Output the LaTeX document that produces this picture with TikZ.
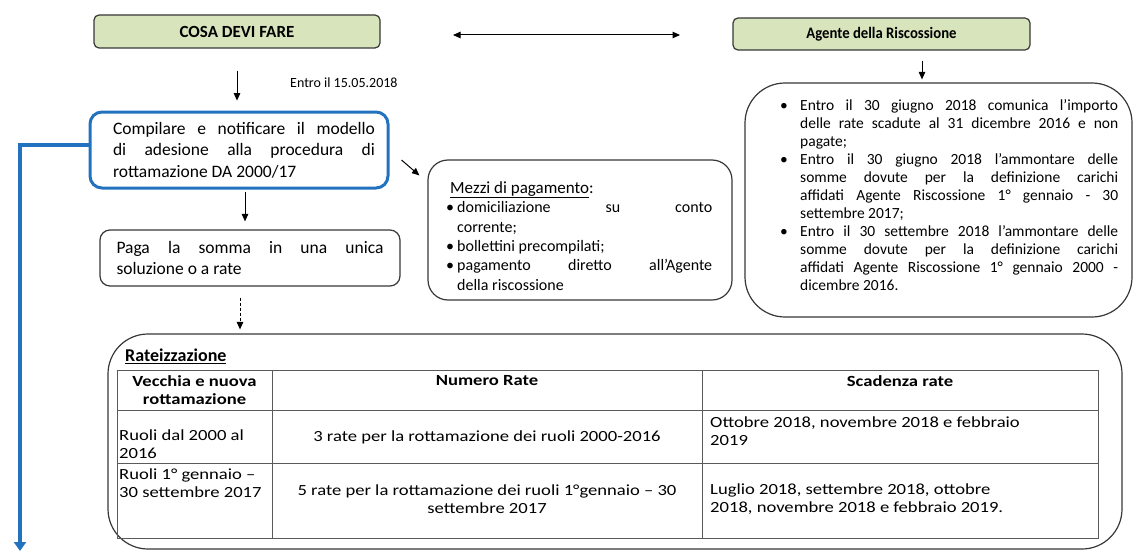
\documentclass[tikz,border=0pt]{standalone}
\usepackage{fontspec}
\setmainfont{Carlito}
\newfontfamily\tabfont{Carlito}[FakeStretch=1.2]
\newfontfamily\narfont{Carlito}[FakeStretch=0.92]
\usetikzlibrary{arrows.meta}
\definecolor{hdr}{RGB}{216,228,188}
\definecolor{edge}{RGB}{55,55,55}
\definecolor{blu}{RGB}{35,114,192}
\definecolor{tblc}{RGB}{90,90,90}
\newcommand{\jline}[2]{\makebox[#1][s]{\spaceskip=0pt\xspaceskip=0pt\relax #2}}
\newcommand{\bulitem}{\makebox[22pt][l]{\hspace{2pt}\textbullet}}
\newcommand{\myind}{\hspace*{22pt}}
\newcommand{\mbul}{\makebox[11pt][l]{\textbullet}}
\begin{document}
\begin{tikzpicture}[x=1pt,y=-1pt,
  hdrbox/.style={draw=edge, fill=hdr, line width=1.2pt, rounded corners=5pt, inner sep=0pt},
  rbox/.style={draw=edge, line width=1.2pt, inner sep=0pt},
  arr/.style={-{Triangle[length=7.5pt,width=6.5pt]}, line width=1pt},
  darr/.style={{Triangle[length=7.5pt,width=6.5pt]}-{Triangle[length=7.5pt,width=6.5pt]}, line width=1pt},
  tbl/.style={draw=tblc, line width=0.9pt},
  cell/.style={inner sep=0pt, font=\tabfont\fontsize{15.5}{18}\selectfont},
  hcell/.style={inner sep=0pt, font=\tabfont\bfseries\fontsize{15.5}{18}\selectfont},
]
\useasboundingbox (0,0) rectangle (1137,551);

% header boxes
\node[hdrbox, minimum width=286pt, minimum height=33pt, font=\bfseries\fontsize{17}{20}\selectfont] (cosa) at (237,31.5) {COSA DEVI FARE};
\node[hdrbox, minimum width=297pt, minimum height=32pt, font=\narfont\bfseries\fontsize{16}{18}\selectfont] (agente) at (881.5,34) {Agente della Riscossione};
\coordinate (dl) at (453,35);
\coordinate (dr) at (680,35);
\draw[darr] (dl) -- (dr);

% step 1
\node[draw=blu, line width=3pt, rounded corners=12pt, inner sep=0pt,
      minimum width=298pt, minimum height=76pt, align=left,
      font=\fontsize{17.5}{21.5}\selectfont] (comp) at (239,150)
  {\hspace*{10pt}\jline{262pt}{Compilare e notificare il modello}\\
   \hspace*{10pt}\jline{262pt}{di adesione alla procedura di}\\
   \hspace*{10pt}rottamazione DA 2000/17};
\draw[arr] ([yshift=-22pt]cosa.south) -- ++(0,30);
\node[anchor=west, inner sep=0pt, font=\fontsize{14}{16}\selectfont] (entro) at (290,83) {Entro il 15.05.2018};

% blue side line
\coordinate (bl) at (20,551);
\draw[blu, line width=4pt, -{Triangle[length=9pt,width=12pt]}] ([yshift=5pt]comp.west) -| (bl);

% mezzi di pagamento
\node[rbox, rounded corners=20pt, minimum width=304pt, minimum height=140pt] (mezzi) at (580,230) {};
\node[inner sep=0pt, align=left, anchor=west, font=\fontsize{16}{19.4}\selectfont] (mtext) at (446,236)
  {\hspace*{4pt}{\fontsize{17}{19.4}\selectfont\underline{Mezzi di pagamento}:}\\
   \mbul\jline{255pt}{domiciliazione su conto}\\
   \hspace*{11pt}corrente;\\
   \mbul bollettini precompilati;\\
   \mbul\jline{255pt}{pagamento diretto all'Agente}\\
   \hspace*{11pt}della riscossione};
\draw[arr] ([xshift=12pt,yshift=-10pt]comp.east) -- ([xshift=-8pt,yshift=-16pt]mezzi.north west);

% agente box
\node[rbox, rounded corners=40pt, minimum width=387pt, minimum height=234pt] (agbox) at (938.5,200) {};
\node[inner sep=0pt, align=left, anchor=west, font=\fontsize{15.5}{18}\selectfont] (agtext) at (778,195)
  {\bulitem\jline{318pt}{Entro il 30 giugno 2018 comunica l'importo}\\
   \myind\jline{318pt}{delle rate scadute al 31 dicembre 2016 e non}\\
   \myind pagate;\\
   \bulitem\jline{318pt}{Entro il 30 giugno 2018 l'ammontare delle}\\
   \myind\jline{318pt}{somme dovute per la definizione carichi}\\
   \myind\jline{318pt}{affidati Agente Riscossione 1° gennaio - 30}\\
   \myind settembre 2017;\\
   \bulitem\jline{318pt}{Entro il 30 settembre 2018 l'ammontare delle}\\
   \myind\jline{318pt}{somme dovute per la definizione carichi}\\
   \myind\jline{318pt}{affidati Agente Riscossione 1° gennaio 2000 -}\\
   \myind dicembre 2016.};
\draw[arr] ([xshift=40.5pt,yshift=-10pt]agente.south) -- ([xshift=-16.5pt,yshift=3pt]agbox.north);

% paga
\node[rbox, rounded corners=10pt, minimum width=300pt, minimum height=56pt,
      align=left, font=\fontsize{17.5}{20.5}\selectfont] (paga) at (250,258)
  {\jline{267pt}{Paga la somma in una unica}\\ soluzione o a rate};
\draw[arr] ([xshift=6pt,yshift=-2pt]comp.south) -- ([xshift=-5pt,yshift=8pt]paga.north);

% rateizzazione
\node[rbox, rounded corners=40pt, minimum width=1014pt, minimum height=215pt] (rate) at (615,441.5) {};
\draw[arr, dash pattern=on 3pt off 2pt] ([xshift=-10pt,yshift=-11pt]paga.south) -- ([xshift=-375pt,yshift=4pt]rate.north);
\node[anchor=west, inner sep=0pt, font=\bfseries\fontsize{18}{20}\selectfont] (rtitle) at (125,356) {\underline{Rateizzazione}};

% table
\draw[tbl] (117,370) rectangle (1098,538);
\draw[tbl] (272,370) -- (272,538);
\draw[tbl] (702,370) -- (702,538);
\draw[tbl] (117,410) -- (1098,410);
\draw[tbl] (117,463) -- (1098,463);

\node[hcell, align=center] (h1) at (194.5,390) {Vecchia e nuova\\rottamazione};
\node[hcell] (h2) at (487,381) {Numero Rate};
\node[hcell] (h3) at (900,381) {Scadenza rate};
\node[cell, align=left, anchor=west] (c11) at (119,444) {Ruoli dal 2000 al\\2016};
\node[cell] (c12) at (487,437) {3 rate per la rottamazione dei ruoli 2000-2016};
\node[cell, align=left, anchor=west] (c13) at (710,431) {Ottobre 2018, novembre 2018 e febbraio\\2019};
\node[cell, align=left, anchor=west] (c21) at (119,483) {Ruoli 1° gennaio –\\30 settembre 2017};
\node[cell, align=center] (c22) at (487,499) {5 rate per la rottamazione dei ruoli 1°gennaio – 30\\settembre 2017};
\node[cell, align=left, anchor=west] (c23) at (710,499) {Luglio 2018, settembre 2018, ottobre\\2018, novembre 2018 e febbraio 2019.};
\end{tikzpicture}
\end{document}
